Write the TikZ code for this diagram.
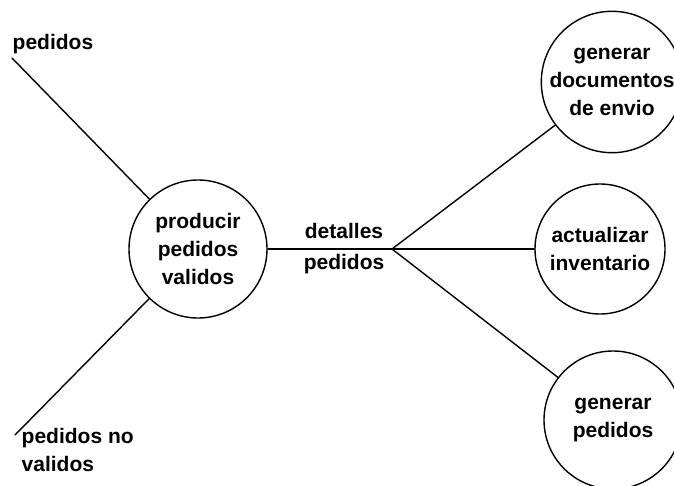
\documentclass[tikz,border=0pt]{standalone}
\usepackage{fontspec}
\setmainfont{Liberation Sans}
\begin{document}
\begin{tikzpicture}[x=1pt,y=-1pt,line width=1.4pt,line join=round,line cap=round,
  font=\fontsize{21}{28}\selectfont\bfseries,
  proceso/.style={circle,draw,minimum size=138pt,inner sep=0pt,align=center},
  flujo/.style={inner sep=0pt,align=left}]
  \useasboundingbox (0,0) rectangle (674,486);
  % procesos
  \node[proceso] (prod) at (198,249) {producir\\pedidos\\validos};
  \node[proceso] (docs) at (612,82) {generar\\documentos\\de envio};
  \node[proceso,minimum size=130pt] (inv) at (600,249) {actualizar\\inventario};
  \node[proceso] (gen) at (613,420) {generar\\pedidos};
  % flujos
  \coordinate (ent) at (12,58);
  \coordinate (sal) at (15,435);
  \coordinate (hub) at (392,249);
  \node[flujo,anchor=west] (lped) at (12,44) {pedidos};
  \node[flujo,anchor=north west] (lno) at (21,428) {pedidos no\\validos};
  \node[flujo,align=center] (ldet) at (344,249) {detalles\\[3pt]pedidos};
  \draw (ent) -- (prod);
  \draw (prod) -- (sal);
  \draw (prod) -- (hub) -- (inv);
  \draw (hub) -- (docs);
  \draw (hub) -- (gen);
\end{tikzpicture}
\end{document}
